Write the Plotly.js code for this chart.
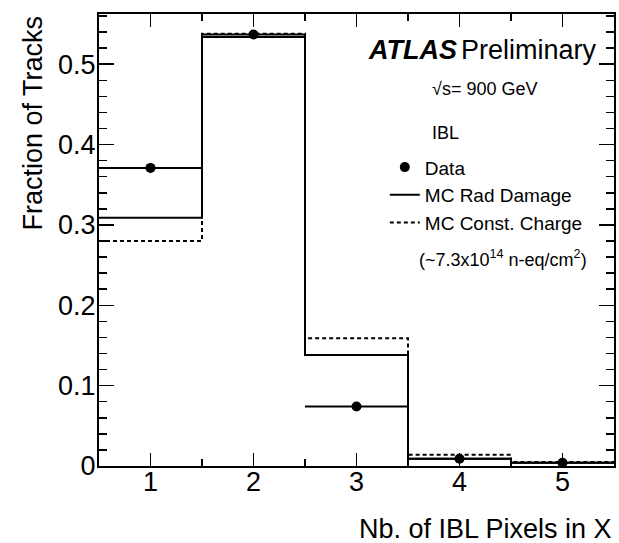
<!DOCTYPE html>
<html>
<head>
<meta charset="utf-8">
<script src="https://cdn.plot.ly/plotly-3.0.1.min.js"></script>
<style>html,body{margin:0;padding:0;background:#fff;}#chart{width:619px;height:543px;}</style>
</head>
<body>
<div id="chart"></div>
<script>
// Bin centres (number of IBL pixels in X)
const binCenters = [1, 2, 3, 4, 5];
const binWidth = 1;
// Fractions of tracks
const dataValues = [0.371, 0.537, 0.074, 0.009, 0.004];
const mcRadDamage = [0.309, 0.534, 0.138, 0.009, 0.004];
const mcConstCharge = [0.280, 0.538, 0.159, 0.014, 0.005];
const xTickVals = [1, 2, 3, 4, 5];
const yTickVals = [0, 0.1, 0.2, 0.3, 0.4, 0.5];

// Build step-histogram outlines from bin centres
const edges = binCenters.map(c => c - binWidth / 2).concat([binCenters[binCenters.length - 1] + binWidth / 2]);
const stepY = v => v.concat([v[v.length - 1]]);

const FONT = 'Liberation Sans, Arial, Helvetica, sans-serif';

const traces = [
  {
    x: edges, y: stepY(mcConstCharge), type: 'scatter', mode: 'lines',
    line: {shape: 'hv', color: '#000', width: 2, dash: '4px,3px'},
    name: 'MC Const. Charge', legendrank: 3, legendgroup: 'c'
  },
  {
    x: edges, y: stepY(mcRadDamage), type: 'scatter', mode: 'lines',
    line: {shape: 'hv', color: '#000', width: 2},
    name: 'MC Rad Damage', legendrank: 2, legendgroup: 'b'
  },
  {
    x: binCenters, y: dataValues, type: 'scatter', mode: 'markers',
    marker: {color: '#000', size: 10},
    error_x: {type: 'constant', value: binWidth / 2, color: '#000', thickness: 2, width: 0},
    name: 'Data', legendrank: 1, legendgroup: 'a'
  }
];

const layout = {
  width: 619, height: 543,
  margin: {l: 99, r: 5, t: 14, b: 77},
  paper_bgcolor: '#fff', plot_bgcolor: '#fff',
  font: {family: FONT, color: '#000', size: 27},
  showlegend: true,
  legend: {
    x: 0.555, y: 0.703, xanchor: 'left', yanchor: 'top',
    font: {family: FONT, size: 19, color: '#000'},
    bgcolor: 'rgba(0,0,0,0)', tracegroupgap: 0, itemwidth: 30,
    traceorder: 'normal'
  },
  xaxis: {
    range: [0.5, 5.5], tickvals: xTickVals, ticktext: xTickVals.map(String),
    showgrid: false, zeroline: false, showline: true, linecolor: '#000', linewidth: 2,
    mirror: 'ticks', ticks: 'inside', ticklen: 13, tickwidth: 1.5, tickcolor: '#000',
    tickfont: {family: FONT, size: 27}, ticklabelstandoff: -9,
    minor: {ticks: 'inside', dtick: 0.5, tick0: 0.5, ticklen: 7, tickwidth: 1.5, tickcolor: '#000', showgrid: false}
  },
  yaxis: {
    range: [0, 0.5625], tickvals: yTickVals, ticktext: yTickVals.map(v => v === 0 ? '0' : v.toFixed(1)),
    showgrid: false, zeroline: false, showline: true, linecolor: '#000', linewidth: 2,
    mirror: 'ticks', ticks: 'inside', ticklen: 15, tickwidth: 1.5, tickcolor: '#000',
    tickfont: {family: FONT, size: 27}, ticklabelstandoff: -4,
    minor: {ticks: 'inside', dtick: 0.02, tick0: 0, ticklen: 8, tickwidth: 1.5, tickcolor: '#000', showgrid: false}
  },
  annotations: [
    {xref: 'paper', yref: 'paper', x: -0.13, y: 1.0, xanchor: 'center', yanchor: 'top', textangle: -90,
     text: 'Fraction of Tracks', showarrow: false, font: {family: FONT, size: 27}},
    {xref: 'paper', yref: 'paper', x: 1.0, y: -0.139, xanchor: 'right', yanchor: 'middle',
     text: 'Nb. of IBL Pixels in X', showarrow: false, font: {family: FONT, size: 27}},
    {xref: 'paper', yref: 'paper', x: 0.518, y: 0.92, xanchor: 'left', yanchor: 'middle',
     text: '<b><i>ATLAS</i></b><span style="font-size:14px"> </span>Preliminary', showarrow: false, font: {family: FONT, size: 27}},
    {xref: 'paper', yref: 'paper', x: 0.643, y: 0.834, xanchor: 'left', yanchor: 'middle',
     text: '√s= 900 GeV', showarrow: false, font: {family: FONT, size: 18}},
    {xref: 'paper', yref: 'paper', x: 0.643, y: 0.737, xanchor: 'left', yanchor: 'middle',
     text: 'IBL', showarrow: false, font: {family: FONT, size: 18}},
    {xref: 'paper', yref: 'paper', x: 0.617, y: 0.46, xanchor: 'left', yanchor: 'middle',
     text: '(~7.3x10<sup>14</sup> n-eq/cm<sup>2</sup>)', showarrow: false, font: {family: FONT, size: 18}}
  ]
};

Plotly.newPlot('chart', traces, layout, {displayModeBar: false, staticPlot: true});
</script>
</body>
</html>
